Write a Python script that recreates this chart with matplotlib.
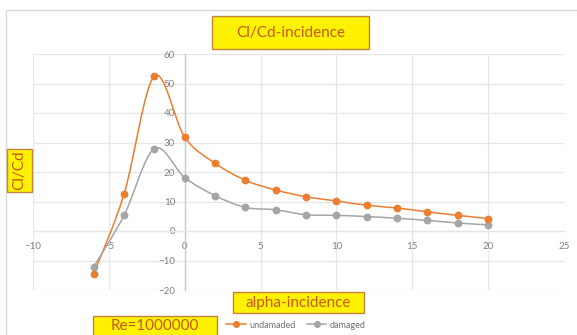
import numpy as np
import matplotlib.pyplot as plt
from matplotlib.path import Path
from matplotlib.patches import PathPatch, Rectangle
from matplotlib.lines import Line2D

# ---------------------------------------------------------
# Data
# ---------------------------------------------------------
alpha = [-6, -4, -2, 0, 2, 4, 6, 8, 10, 12, 14, 16, 18, 20]
cl_cd_undamaged = [-14.5, 12.5, 52.5, 31.8, 23.0, 17.2, 13.9, 11.6, 10.2, 8.7, 7.8, 6.5, 5.3, 4.2]
cl_cd_damaged = [-12.2, 5.3, 27.9, 18.1, 12.0, 8.0, 7.2, 5.5, 5.3, 4.9, 4.3, 3.6, 2.7, 2.1]

x_ticks = [-10, -5, 0, 5, 10, 15, 20, 25]
y_ticks = [-20, -10, 0, 10, 20, 30, 40, 50, 60]

ORANGE = '#ED7D31'
GREY = '#A5A5A5'
TEXT_BROWN = '#C55A11'
BOX_YELLOW = '#FFF200'
BOX_EDGE = '#C0843C'

W, H = 577, 335


def fx(px):
    return px / W


def fy(py):
    return 1 - py / H


def smooth_path(xs, ys):
    # Catmull-Rom style cubic Bezier through the points (like Excel's smoothed line)
    pts = np.column_stack([xs, ys]).astype(float)
    n = len(pts)
    verts = [pts[0]]
    codes = [Path.MOVETO]
    for i in range(n - 1):
        p0 = pts[i - 1] if i > 0 else pts[i]
        p1 = pts[i]
        p2 = pts[i + 1]
        p3 = pts[i + 2] if i + 2 < n else pts[i + 1]
        c1 = p1 + (p2 - p0) / 6
        c2 = p2 - (p3 - p1) / 6
        verts += [c1, c2, p2]
        codes += [Path.CURVE4] * 3
    return Path(verts, codes)


plt.rcParams['font.family'] = ['Lato', 'DejaVu Sans']

fig = plt.figure(figsize=(W / 100, H / 100), dpi=100)
fig.patch.set_facecolor('white')

# chart area border
fig.patches.append(Rectangle((fx(6), fy(345)), fx(580) - fx(6), fy(10) - fy(345),
                             transform=fig.transFigure, fill=False,
                             edgecolor='#D9D9D9', linewidth=1))

ax = fig.add_axes([fx(33), fy(290), (564 - 33) / W, (290 - 54) / H])
ax.set_xlim(-10, 25)
ax.set_ylim(-20, 60)
ax.set_xticks(x_ticks)
ax.set_yticks(y_ticks)
ax.grid(True, color='#E6E6E6', linewidth=0.9)
ax.set_axisbelow(True)

for side in ['top', 'right']:
    ax.spines[side].set_visible(False)
ax.spines['left'].set_position(('data', 0))
ax.spines['left'].set_color('#C8C8C8')
ax.spines['left'].set_linewidth(0.9)
ax.spines['bottom'].set_position(('data', 0))
ax.spines['bottom'].set_color('#E6E6E6')
ax.spines['bottom'].set_linewidth(0.9)
ax.tick_params(length=0, labelsize=7, labelcolor='#808080')
ax.tick_params(axis='x', pad=8)
ax.tick_params(axis='y', pad=7)

for ys, col in [(cl_cd_undamaged, ORANGE), (cl_cd_damaged, GREY)]:
    ax.add_patch(PathPatch(smooth_path(alpha, ys), facecolor='none',
                           edgecolor=col, linewidth=1.1, zorder=3))
ax.plot(alpha, cl_cd_damaged, linestyle='none', marker='o', markersize=4.6,
        color=GREY, zorder=4)
ax.plot(alpha, cl_cd_undamaged, linestyle='none', marker='o', markersize=4.6,
        color=ORANGE, zorder=4)


def label_box(x0, y0, x1, y1, text, rotation=0, size=11, ty=None):
    fig.patches.append(Rectangle((fx(x0), fy(y1)), fx(x1) - fx(x0), fy(y0) - fy(y1),
                                 transform=fig.transFigure, facecolor=BOX_YELLOW,
                                 edgecolor=BOX_EDGE, linewidth=1, zorder=5))
    if ty is None:
        ty = (y0 + y1) / 2
    fig.text(fx((x0 + x1) / 2), fy(ty), text, ha='center', va='center',
             rotation=rotation, fontsize=size, color=TEXT_BROWN, zorder=6)


label_box(212, 16, 369, 49, 'Cl/Cd-incidence')
label_box(7, 149, 32, 192, 'Cl/Cd', rotation=90)
label_box(233, 292, 364, 313, 'alpha-incidence')
label_box(93, 316, 217, 345, 'Re=1000000', ty=325.5)

handles = [Line2D([], [], color=ORANGE, marker='o', markersize=4, linewidth=1.1),
           Line2D([], [], color=GREY, marker='o', markersize=4, linewidth=1.1)]
fig.legend(handles, ['undamaded', 'damaged'], ncol=2, frameon=False,
           loc='center', bbox_to_anchor=(fx(296), fy(325)), fontsize=6.5,
           labelcolor='#707070', handlelength=2.2, handletextpad=0.4,
           columnspacing=1.2)

fig.savefig('out.png', dpi=100)
